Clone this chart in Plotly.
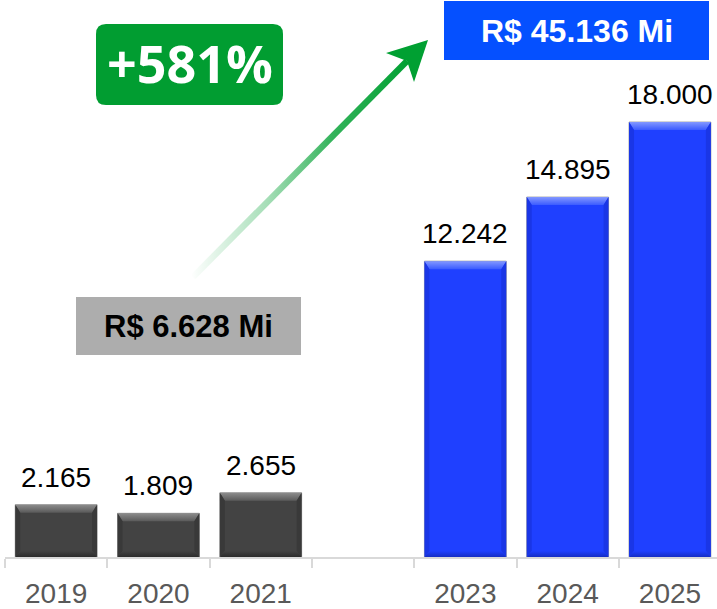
import plotly.graph_objects as go

# --- data -------------------------------------------------------------
years = ["2019", "2020", "2021", "2022", "2023", "2024", "2025"]
values = [2165, 1809, 2655, None, 12242, 14895, 18000]
groups = ["hist", "hist", "hist", None, "proj", "proj", "proj"]
hist_total_label = "R$ 6.628 Mi"
proj_total_label = "R$ 45.136 Mi"
growth_label = "+581%"

# --- layout constants ---------------------------------------------------
W, H = 717, 609
ML, MR, MT, MB = 5, 0, 0, 52
PW, PH = W - ML - MR, H - MT - MB
CAT_PX = 102.3                      # pixels per category slot
X_MIN = -0.5
X_MAX = X_MIN + PW / CAT_PX
Y_MAX = 23050
BAR_W = 0.8
UX = (X_MAX - X_MIN) / PW           # x data units per pixel
UY = Y_MAX / PH                     # y data units per pixel

FONT = "Liberation Sans"

STYLE = {
    "hist": dict(face="#434343", top_out="#8c8c8c", top_in="#5a5a5a",
                 side="#393939", bottom="#2c2c2c"),
    "proj": dict(face="#1f40ff", top_out="#8398ff", top_in="#3b5bff",
                 side="#1a36e6", bottom="#152dc4"),
}


def fmt(v):
    return f"{v:,}".replace(",", ".")


xpos = list(range(len(years)))
tick_text = [y if v is not None else "" for y, v in zip(years, values)]

fig = go.Figure()

fig.add_trace(go.Bar(
    x=xpos, y=values, width=BAR_W,
    marker=dict(color=[STYLE[g]["face"] if g else "rgba(0,0,0,0)" for g in groups],
                line=dict(color="rgba(160,160,160,0.9)", width=1)),
    hoverinfo="skip",
))


def poly(xs, ys, **kw):
    fig.add_trace(go.Scatter(
        x=xs + [xs[0]], y=ys + [ys[0]], mode="lines", fill="toself",
        line=dict(width=0), hoverinfo="skip", showlegend=False, **kw))


# bevelled edges drawn from each bar's value
BT, BS, BB = 8, 5, 6   # top, side, bottom bevel sizes in pixels
for i, (v, g) in zip(xpos, zip(values, groups)):
    if v is None:
        continue
    s = STYLE[g]
    xl, xr = i - BAR_W / 2, i + BAR_W / 2
    il, ir = xl + BS * UX, xr - BS * UX
    it, ib = v - BT * UY, BB * UY
    # top
    poly([xl, xr, ir, il], [v, v, it, it],
         fillgradient=dict(type="vertical",
                           colorscale=[[0, s["top_in"]], [1, s["top_out"]]]))
    # sides
    poly([xl, il, il, xl], [v, it, ib, 0], fillcolor=s["side"])
    poly([xr, ir, ir, xr], [v, it, ib, 0], fillcolor=s["side"])
    # bottom
    poly([xl, xr, ir, il], [0, 0, ib, ib],
         fillgradient=dict(type="vertical",
                           colorscale=[[0, s["bottom"]], [1, s["face"]]]))

# value labels above bars
annotations = []
for x, v in zip(xpos, values):
    if v is None:
        continue
    annotations.append(dict(
        x=x, y=v, xref="x", yref="y", text=fmt(v), showarrow=False,
        yanchor="bottom", yshift=10,
        font=dict(family=FONT, size=28, color="#000000")))

# --- decorations in pixel space (x2 / y2) -----------------------------
# growth arrow: fading shaft + solid head
tail = (193, 277)
neck = (407, 61)
tip = (428, 40)
barb_a = (386, 53)
barb_b = (414, 82)
half_w = 3.2
dx, dy = neck[0] - tail[0], neck[1] - tail[1]
ln = (dx * dx + dy * dy) ** 0.5
px, py = -dy / ln * half_w, dx / ln * half_w
shaft_x = [tail[0] + px, neck[0] + px, neck[0] - px, tail[0] - px, tail[0] + px]
shaft_y = [tail[1] + py, neck[1] + py, neck[1] - py, tail[1] - py, tail[1] + py]
fig.add_trace(go.Scatter(
    x=shaft_x, y=shaft_y, xaxis="x2", yaxis="y2", mode="lines", fill="toself",
    line=dict(width=0), hoverinfo="skip", showlegend=False,
    fillgradient=dict(type="horizontal", colorscale=[
        [0.0, "rgba(0,160,50,0.0)"], [0.35, "rgba(0,160,50,0.35)"],
        [0.65, "rgba(0,160,50,0.8)"], [1.0, "rgba(0,160,50,1.0)"]]),
))
fig.add_trace(go.Scatter(
    x=[tip[0], barb_a[0], neck[0], barb_b[0], tip[0]],
    y=[tip[1], barb_a[1], neck[1], barb_b[1], tip[1]],
    xaxis="x2", yaxis="y2", mode="lines", fill="toself",
    fillcolor="#00a032", line=dict(width=0), hoverinfo="skip", showlegend=False,
))


def rounded_rect(x0, y0, x1, y1, r):
    return (f"M{x0 + r},{y0} L{x1 - r},{y0} Q{x1},{y0} {x1},{y0 + r} "
            f"L{x1},{y1 - r} Q{x1},{y1} {x1 - r},{y1} L{x0 + r},{y1} "
            f"Q{x0},{y1} {x0},{y1 - r} L{x0},{y0 + r} Q{x0},{y0} {x0 + r},{y0} Z")


shapes = [
    dict(type="path", xref="x2", yref="y2", path=rounded_rect(96, 24, 283, 105, 10),
         fillcolor="#019d31", line=dict(width=0), layer="above"),
    dict(type="rect", xref="x2", yref="y2", x0=444, y0=1, x1=709, y1=60,
         fillcolor="#0550ff", line=dict(width=0), layer="above"),
    dict(type="rect", xref="x2", yref="y2", x0=76, y0=297, x1=301, y1=355,
         fillcolor="#adadad", line=dict(width=0), layer="above"),
]

annotations += [
    dict(x=189.5, y=62, xref="x2", yref="y2", text=f"<b>{growth_label}</b>",
         showarrow=False, font=dict(family="Open Sans", size=52, color="white")),
    dict(x=576.5, y=31, xref="x2", yref="y2", text=f"<b>{proj_total_label}</b>",
         showarrow=False, font=dict(family=FONT, size=32, color="white")),
    dict(x=188.5, y=326, xref="x2", yref="y2", text=f"<b>{hist_total_label}</b>",
         showarrow=False, font=dict(family=FONT, size=31, color="black")),
]

fig.update_layout(
    width=W, height=H,
    margin=dict(l=ML, r=MR, t=MT, b=MB, pad=0),
    paper_bgcolor="white", plot_bgcolor="white",
    showlegend=False,
    xaxis=dict(range=[X_MIN, X_MAX], tickmode="array", tickvals=xpos,
               ticktext=tick_text, ticks="", ticklabelstandoff=10,
               showline=True, linecolor="#d9d9d9", linewidth=2,
               showgrid=False, zeroline=False,
               minor=dict(tick0=-0.5, dtick=1, ticks="outside", ticklen=9,
                          tickwidth=2, tickcolor="#d9d9d9", showgrid=False),
               tickfont=dict(family=FONT, size=28, color="#595959")),
    yaxis=dict(range=[0, Y_MAX], visible=False),
    xaxis2=dict(overlaying="x", range=[ML, W - MR], visible=False, anchor="y2"),
    yaxis2=dict(overlaying="y", range=[MT + PH, MT], visible=False, anchor="x2"),
    shapes=shapes, annotations=annotations,
)

fig.write_html("out.html")
